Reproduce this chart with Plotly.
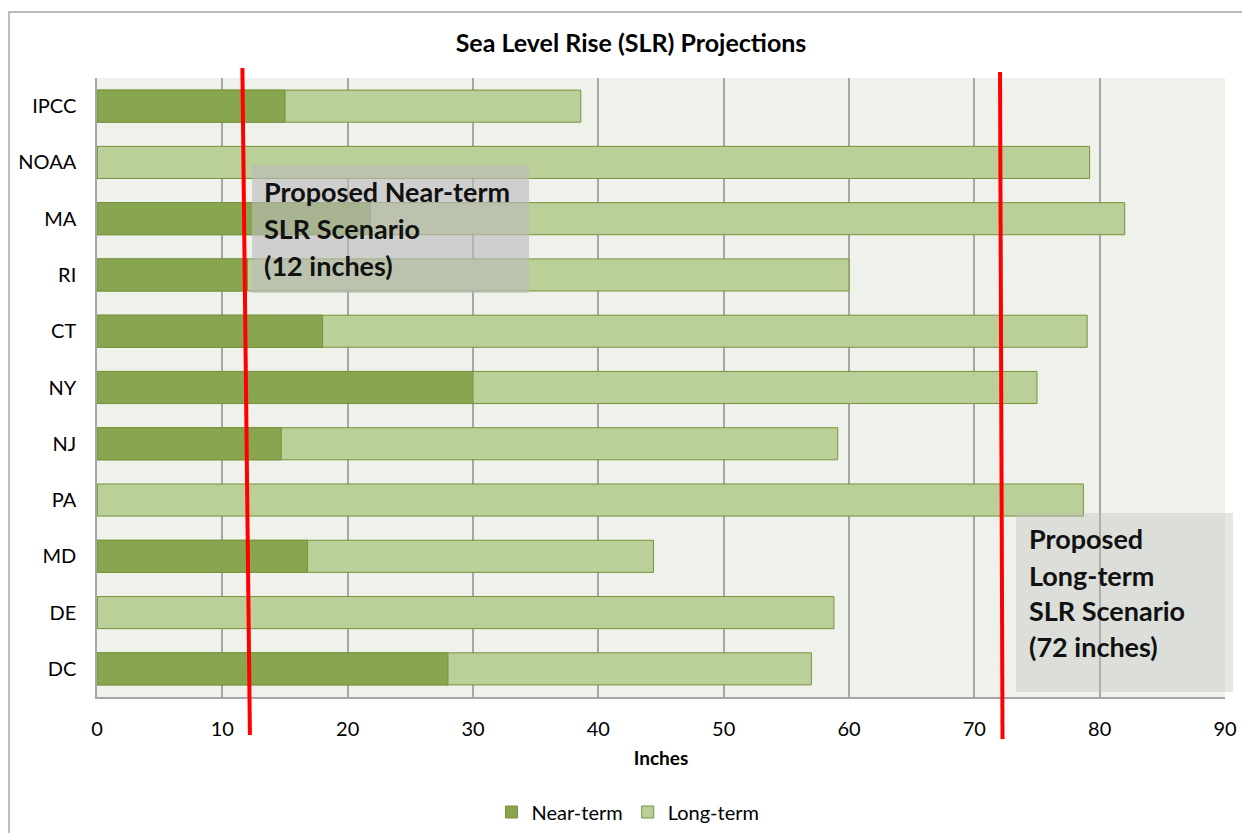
import plotly.graph_objects as go

# ---- data ----
regions = ["IPCC", "NOAA", "MA", "RI", "CT", "NY", "NJ", "PA", "MD", "DE", "DC"]
near_term = [15.0, 0, 21.8, 12.0, 18.0, 30.0, 14.7, 0, 16.8, 0, 28.0]
long_term = [38.6, 79.2, 82.0, 60.0, 79.0, 75.0, 59.1, 78.7, 44.4, 58.8, 57.0]
x_ticks = [0, 10, 20, 30, 40, 50, 60, 70, 80, 90]
near_scenario = 12
long_scenario = 72

FONT = "Lato"
NEAR_COL = "#88A54F"
LONG_COL = "#BBCF98"
EDGE_COL = "#77933C"
GRID_COL = "#A6A6A6"

fig = go.Figure()
fig.add_trace(go.Bar(
    y=regions, x=long_term, orientation="h", name="Long-term",
    marker=dict(color=LONG_COL, line=dict(color=EDGE_COL, width=1)),
    legendrank=2,
))
fig.add_trace(go.Bar(
    y=regions, x=near_term, orientation="h", name="Near-term",
    marker=dict(color=NEAR_COL, line=dict(color=EDGE_COL, width=1)),
    legendrank=1,
))

# pixel -> paper helpers for layout decorations
L, R, T, B = 97, 1225, 78, 697
def px(xp):
    return (xp - L) / (R - L)
def py(yp):
    return (B - yp) / (B - T)
UNIT = (R - L) / 90.0

shapes = [
    # outer chart border
    dict(type="rect", xref="paper", yref="paper", x0=px(9), x1=px(1300), y0=py(12), y1=py(900),
         line=dict(color="#A6A6A6", width=1.5), fillcolor="rgba(0,0,0,0)", layer="below"),
    # grey boxes
    dict(type="rect", xref="paper", yref="paper", x0=px(252), x1=px(529), y0=py(293), y1=py(165),
         line=dict(width=0), fillcolor="rgba(188,188,188,0.62)", layer="above"),
    dict(type="rect", xref="paper", yref="paper", x0=px(1016), x1=px(1233), y0=py(692), y1=py(513),
         line=dict(width=0), fillcolor="rgba(188,188,188,0.38)", layer="above"),
    # red scenario lines (hand drawn, slightly slanted)
    dict(type="line", xref="paper", yref="paper",
         x0=px(L + (near_scenario - 0.4) * UNIT), y0=py(68),
         x1=px(L + (near_scenario + 0.2) * UNIT), y1=py(735),
         line=dict(color="#FF0000", width=4)),
    dict(type="line", xref="paper", yref="paper",
         x0=px(L + (long_scenario + 0.05) * UNIT), y0=py(72),
         x1=px(L + (long_scenario + 0.25) * UNIT), y1=py(739),
         line=dict(color="#FF0000", width=4)),
]

near_lines = ["Proposed Near-term", "SLR Scenario", f"({near_scenario} inches)"]
near_ys = [191, 228, 265]
long_lines = ["Proposed", "Long-term", "SLR Scenario", f"({long_scenario} inches)"]
long_ys = [538, 575, 610, 646]

annotations = []
for txt, yy in zip(near_lines, near_ys):
    annotations.append(dict(text=f"<b>{txt}</b>", xref="paper", yref="paper", x=px(262), y=py(yy),
                            xanchor="left", yanchor="middle", showarrow=False,
                            font=dict(family=FONT, size=27, color="#111111")))
for txt, yy in zip(long_lines, long_ys):
    annotations.append(dict(text=f"<b>{txt}</b>", xref="paper", yref="paper", x=px(1027), y=py(yy),
                            xanchor="left", yanchor="middle", showarrow=False,
                            font=dict(family=FONT, size=27, color="#111111")))

fig.update_layout(
    width=1242, height=833,
    margin=dict(l=L, r=1242 - R, t=T, b=833 - B, autoexpand=False),
    paper_bgcolor="white",
    plot_bgcolor="#EFF2EA",
    barmode="overlay",
    bargap=0.43,
    font=dict(family=FONT, size=20, color="#000000"),
    title=dict(text="<b>Sea Level Rise (SLR) Projections</b>", x=px(631), xanchor="center",
               xref="paper", y=1 - 43 / 833, yanchor="middle",
               font=dict(family=FONT, size=25, color="#000000")),
    xaxis=dict(range=[0, 90], tickvals=x_ticks, showgrid=True, gridcolor=GRID_COL, gridwidth=1.5,
               zeroline=False, showline=True, linecolor=GRID_COL, linewidth=1.5, automargin=False,
               ticks="", ticklabelstandoff=13, tickfont=dict(family=FONT, size=20),
               title=dict(text="<b>Inches</b>", font=dict(family=FONT, size=19), standoff=13)),
    yaxis=dict(autorange="reversed", showgrid=False, showline=True, linecolor=GRID_COL, linewidth=1.5,
               automargin=False, ticks="", ticklabelstandoff=15, tickfont=dict(family=FONT, size=20)),
    legend=dict(orientation="h", x=px(628), xanchor="center", y=py(812), yanchor="middle",
                font=dict(family=FONT, size=20), traceorder="normal"),
    showlegend=True,
    shapes=shapes,
    annotations=annotations,
)

fig.write_html("out.html")
